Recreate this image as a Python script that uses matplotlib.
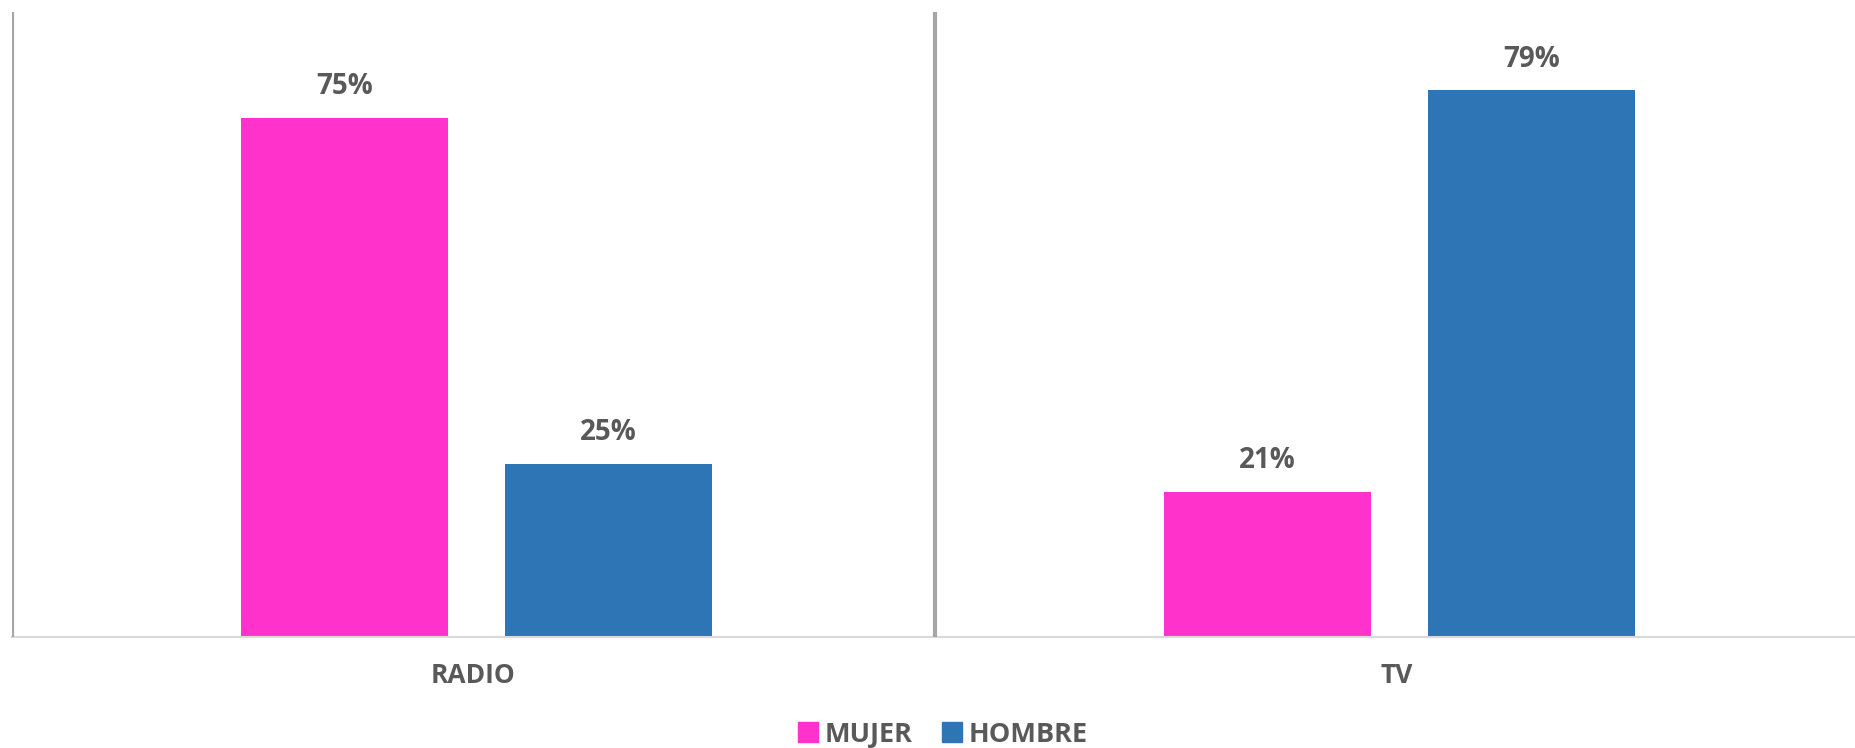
import numpy as np
import matplotlib.pyplot as plt
from matplotlib.patches import Patch

categories = ["RADIO", "TV"]
series = ["MUJER", "HOMBRE"]
mujer = [0.75, 0.21]
hombre = [0.25, 0.79]
colors = ["#FF33CC", "#2E75B6"]

plt.rcParams['font.family'] = ['Open Sans', 'DejaVu Sans']
text_col = "#595959"

fig = plt.figure(figsize=(18.56, 7.48), dpi=100)
W, H = 1856, 748
# axes spans a bit past the right edge, like the source
ax = fig.add_axes([12 / W, (H - 637) / H, 1846 / W, 625 / H])

x = np.arange(len(categories))
width = 0.224
offset = 0.143
for vals, off, col in [(mujer, -offset, colors[0]), (hombre, offset, colors[1])]:
    bars = ax.bar(x + off + 0.003, vals, width, color=col, zorder=2)
    for b, v in zip(bars, vals):
        ax.annotate(f"{v:.0%}", (b.get_x() + b.get_width() / 2, v),
                    xytext=(0, 12), textcoords="offset points",
                    ha="center", va="bottom", fontsize=20,
                    fontweight="bold", color=text_col)

ax.set_xlim(-0.5, 1.5)
ax.set_ylim(0, 0.903)

# category separators like Excel
ax.axvline(-0.5, color="#A6A6A6", lw=3, zorder=3)
ax.axvline(0.5, color="#A6A6A6", lw=3, zorder=3)

for s in ["top", "left", "right"]:
    ax.spines[s].set_visible(False)
ax.spines["bottom"].set_color("#D9D9D9")
ax.spines["bottom"].set_linewidth(1.5)
ax.set_yticks([])
ax.set_xticks(x)
ax.set_xticklabels(categories, fontsize=19, color=text_col, fontweight="bold")
ax.tick_params(axis="x", length=0, pad=18)

handles = [Patch(color=c) for c in colors]
fig.legend(handles, series, loc="center", ncol=2, frameon=False,
           bbox_to_anchor=(0.508, 0.018), prop={"size": 19.5, "weight": "bold"},
           labelcolor=text_col, handlelength=0.74, handleheight=0.74,
           handletextpad=0.25, columnspacing=1.05, borderpad=0, borderaxespad=0)

fig.savefig("out.png", dpi=100, facecolor="white")
